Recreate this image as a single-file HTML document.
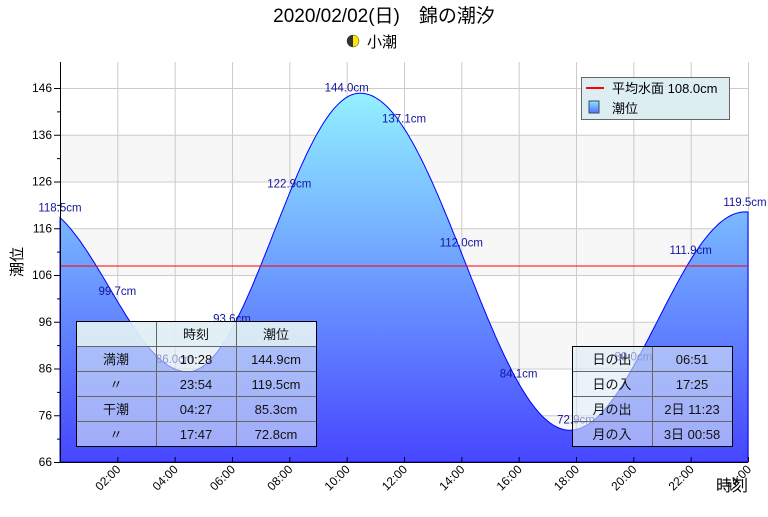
<!DOCTYPE html>
<html><head><meta charset="utf-8"><style>
body{margin:0;background:#fff;}
svg text{font-family:"Liberation Sans","Noto Sans CJK JP",sans-serif;}
</style></head><body>
<svg id="s" width="768" height="512" xmlns="http://www.w3.org/2000/svg">
<defs>
<linearGradient id="g" gradientUnits="userSpaceOnUse" x1="0" y1="62" x2="0" y2="462">
<stop offset="0" stop-color="#99ffff"/><stop offset="1" stop-color="#4646ff"/></linearGradient>
<linearGradient id="lg" x1="0" y1="0" x2="0" y2="1"><stop offset="0" stop-color="#88e8ff"/><stop offset="1" stop-color="#5070ff"/></linearGradient>
</defs>
<g id="bands"></g>
<g id="grid" stroke="#cccccc" stroke-width="1"></g>
<path id="area" fill="url(#g)" stroke="#0000ff" stroke-width="1"/>
<line x1="60" y1="266" x2="748" y2="266" stroke="#ff0000" stroke-width="1"/>
<g id="lbl" font-size="11.5" fill="#1414a0" text-anchor="middle"></g>
<g stroke="#000"><line x1="60.5" y1="62" x2="60.5" y2="462"/><line x1="60" y1="462.5" x2="748" y2="462.5"/></g>
<g id="ticks" stroke="#000"></g>
<g id="ylab" font-size="12" fill="#000" text-anchor="end"></g>
<g id="xlab" font-size="12" fill="#000" text-anchor="end"></g>
<text x="384" y="22" font-size="19" text-anchor="middle">2020/02/02(日)　錦の潮汐</text>
<circle cx="353" cy="41" r="6" fill="#ffe600" stroke="#333" stroke-width="0.5"/>
<path d="M353 35 A6 6 0 0 0 353 47 Z" fill="#333"/>
<text x="367" y="47" font-size="15">小潮</text>
<text x="22" y="262" font-size="15" transform="rotate(-90 22 262)" text-anchor="middle">潮位</text>
<text x="732" y="491" font-size="16" text-anchor="middle">時刻</text>
<rect x="581.5" y="77.5" width="148" height="42" fill="#ddeef2" stroke="#666"/>
<line x1="586" y1="88" x2="604" y2="88" stroke="#f00" stroke-width="2"/>
<text x="612" y="93" font-size="13">平均水面 108.0cm</text>
<rect x="589" y="101" width="10" height="12" fill="url(#lg)" stroke="#446"/>
<text x="612" y="113" font-size="13">潮位</text>
<g font-size="13" text-anchor="middle" fill="#111">
<rect x="76.5" y="321.5" width="240" height="125" fill="rgba(220,235,245,0.6)" stroke="#000"/>
<rect x="77" y="322" width="239" height="25" fill="rgba(225,240,245,0.85)"/>
<g stroke="#666"><line x1="156.5" y1="322" x2="156.5" y2="446"/><line x1="236.5" y1="322" x2="236.5" y2="446"/>
<line x1="77" y1="346.5" x2="316" y2="346.5"/><line x1="77" y1="371.5" x2="316" y2="371.5"/><line x1="77" y1="396.5" x2="316" y2="396.5"/><line x1="77" y1="421.5" x2="316" y2="421.5"/></g>
<text x="196" y="339">時刻</text><text x="276" y="339">潮位</text>
<text x="116" y="364">満潮</text><text x="196" y="364">10:28</text><text x="276" y="364">144.9cm</text>
<text x="116" y="389">〃</text><text x="196" y="389">23:54</text><text x="276" y="389">119.5cm</text>
<text x="116" y="414">干潮</text><text x="196" y="414">04:27</text><text x="276" y="414">85.3cm</text>
<text x="116" y="439">〃</text><text x="196" y="439">17:47</text><text x="276" y="439">72.8cm</text>
<rect x="572.5" y="346.5" width="160" height="100" fill="rgba(220,235,245,0.6)" stroke="#000"/>
<g stroke="#666"><line x1="652.5" y1="347" x2="652.5" y2="446"/>
<line x1="573" y1="371.5" x2="732" y2="371.5"/><line x1="573" y1="396.5" x2="732" y2="396.5"/><line x1="573" y1="421.5" x2="732" y2="421.5"/></g>
<text x="612" y="364">日の出</text><text x="692" y="364">06:51</text>
<text x="612" y="389">日の入</text><text x="692" y="389">17:25</text>
<text x="612" y="414">月の出</text><text x="692" y="414">2日 11:23</text>
<text x="612" y="439">月の入</text><text x="692" y="439">3日 00:58</text>
</g>
</svg>
<script>
var NS="http://www.w3.org/2000/svg";
function el(p,t,a,txt){var e=document.createElementNS(NS,t);for(var k in a)e.setAttribute(k,a[k]);if(txt)e.textContent=txt;document.getElementById(p).appendChild(e);return e;}
function Y(v){return 462-(v-66)*4.675;}
function X(h){return 60+h*688/24;}
for(var v=66;v<146;v+=20)el("bands","rect",{x:61,y:Y(v+10),width:687,height:46.75,fill:"#f7f7f7"});
for(var v=76;v<=146;v+=10)el("grid","line",{x1:60,x2:748,y1:Y(v)+.5,y2:Y(v)+.5});
for(var h=2;h<=24;h+=2)el("grid","line",{x1:X(h)+.5,x2:X(h)+.5,y1:62,y2:462});
var ex=[[-1.0,121.2],[4.45,85.3],[10.47,144.9],[17.78,72.8],[23.9,119.5],[30.5,84]];
function tide(t){for(var i=0;i<ex.length-1;i++){var a=ex[i],b=ex[i+1];if(t>=a[0]&&t<=b[0]){var f=(t-a[0])/(b[0]-a[0]);return a[1]+(b[1]-a[1])*(1-Math.cos(Math.PI*f))/2;}}return 0;}
var d="M60 462";for(var t=0;t<=24.001;t+=0.1)d+=" L"+X(t).toFixed(1)+" "+Y(tide(t)).toFixed(1);
d+=" L748 462 Z";document.getElementById("area").setAttribute("d",d);
var L=[[0,"118.5"],[2,"99.7"],[4,"86.0"],[6,"93.6"],[8,"122.9"],[10,"144.0"],[12,"137.1"],[14,"112.0"],[16,"84.1"],[18,"72.9"],[20,"89.0"],[22,"111.9"],[24,"119.5"]];
L.forEach(function(p){var x=X(p[0]);if(p[0]==24)x=745;el("lbl","text",{x:x,y:Y(tide(p[0]))-6},p[1]+"cm");});
for(var v=66;v<=146;v+=5){var w=(v%10==6)?6:3;el("ticks","line",{x1:60-w,x2:60,y1:Y(v)+.5,y2:Y(v)+.5});}
for(var v=66;v<=146;v+=10)el("ylab","text",{x:52,y:Y(v)+4},v);
for(var h=2;h<=24;h+=2){el("ticks","line",{x1:X(h)+.5,x2:X(h)+.5,y1:457,y2:462});
var x=X(h)+4,y=470;el("xlab","text",{x:x,y:y,transform:"rotate(-45 "+x+" "+y+")"},(h<10?"0":"")+h+":00");}
</script>
</body></html>
